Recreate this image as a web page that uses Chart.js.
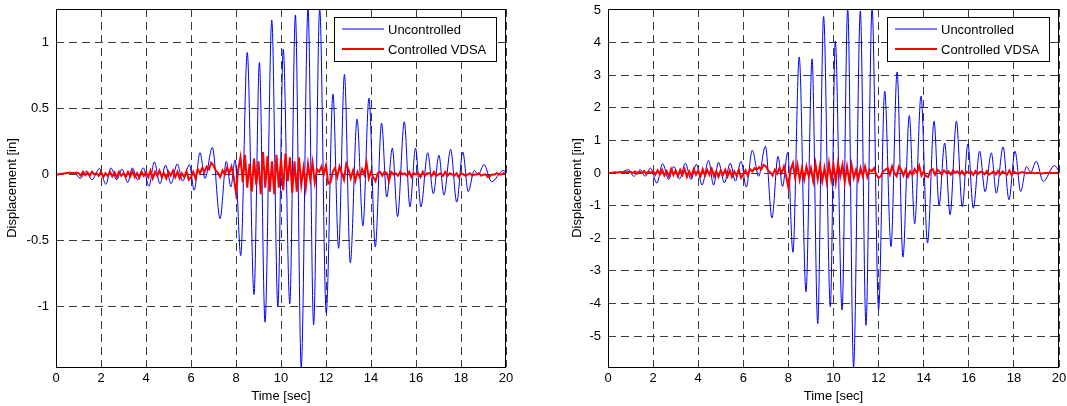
<!DOCTYPE html>
<html>
<head>
<meta charset="utf-8">
<script src="https://cdn.jsdelivr.net/npm/chart.js@4/dist/chart.umd.min.js"></script>
<style>
  html, body { margin: 0; padding: 0; background: #fff; }
  #wrap { position: relative; width: 1067px; height: 406px; }
  #left-chart { position: absolute; left: 0; top: 0; }
  #right-chart { position: absolute; left: 565px; top: 0; }
</style>
</head>
<body>
<div id="wrap">
  <canvas id="left-chart" width="530" height="406"></canvas>
  <canvas id="right-chart" width="502" height="406"></canvas>
</div>
<script>
'use strict';

// labels
var seriesLabels = ['Uncontrolled', 'Controlled VDSA'];
var xTitle = 'Time [sec]';
var yTitle = 'Displacement [in]';

// tick labels
var timeTicks = [0, 2, 4, 6, 8, 10, 12, 14, 16, 18, 20];
var leftYTicks = [-1, -0.5, 0, 0.5, 1];
var rightYTicks = [-5, -4, -3, -2, -1, 0, 1, 2, 3, 4, 5];

// uncontrolled response, left plot (peaks and troughs)
var leftUncT = [0, 0.3, 0.6, 0.85, 1.08, 1.35, 1.6, 1.93, 2.22, 2.44, 2.7, 2.93, 3.19, 3.39, 3.63, 3.88, 4.13, 4.37, 4.62, 4.87,
  5.11, 5.39, 5.63, 5.93, 6.14, 6.4, 6.62, 6.95, 7.29, 7.57, 7.77, 7.96, 8.21, 8.5, 8.8, 9.04, 9.29, 9.59, 9.86, 10.1,
  10.39, 10.64, 10.9, 11.2, 11.45, 11.72, 12.01, 12.31, 12.56, 12.82, 13.08, 13.38, 13.64, 13.91, 14.19, 14.47, 14.7, 14.95, 15.18, 15.48,
  15.73, 15.98, 16.22, 16.52, 16.77, 17.02, 17.24, 17.54, 17.81, 18.08, 18.32, 18.59, 18.77, 19.02, 19.36, 19.88, 20];
var leftUncV = [0, 0.005, 0.015, 0.01, -0.03, 0.025, -0.04, 0.045, -0.075, 0.05, -0.04, 0.04, -0.06, 0.05, -0.04, 0.05, -0.09, 0.095, -0.07, 0.07,
  -0.07, 0.08, -0.05, 0.075, -0.12, 0.165, -0.03, 0.205, -0.335, 0.1, -0.095, 0.11, -0.615, 0.925, -0.91, 0.85, -1.12, 1.17, -1.0, 0.95,
  -0.98, 1.21, -1.46, 1.26, -1.14, 1.26, -1.05, 0.61, -0.56, 0.76, -0.67, 0.42, -0.39, 0.58, -0.55, 0.39, -0.17, 0.2, -0.32, 0.4,
  -0.245, 0.2, -0.245, 0.165, -0.145, 0.146, -0.157, 0.19, -0.21, 0.17, -0.13, 0.03, 0.0, 0.075, -0.055, 0.03, 0.02];

// controlled response, left plot, one value every 0.1 s
var leftCtrlV = [0, 0, 0.005, 0.005, 0.01, 0.01, 0.015, 0.01, 0.01, 0.015, 0.01,
  -0.01, 0.02, -0.005, 0.015, -0.01, 0.02, 0, 0.01, -0.01, 0.02,
  -0.02, 0.01, -0.01, 0.02, -0.015, 0.015, -0.02, 0.02, -0.01, 0.01,
  -0.02, 0.02, -0.015, 0.025, -0.02, 0.01, -0.025, 0.02, -0.01, 0.015,
  -0.02, 0.03, -0.03, 0.02, -0.01, 0.03, -0.02, 0.01, -0.03, 0.02,
  -0.01, 0.03, -0.02, 0.02, -0.03, 0.01, -0.02, 0.025, -0.04, -0.02,
  0.02, -0.03, 0.04, 0.01, 0.05, 0.02, 0.06, 0.04, 0.09, 0.07,
  0.03, 0.01, -0.02, 0.03, 0.0, 0.05, 0.01, 0.06, -0.02, -0.14,
  0.04, 0.13, -0.06, 0.15, -0.1, 0.08, -0.13, 0.12, -0.08, 0.1,
  -0.15, 0.17, -0.1, 0.14, -0.13, 0.1, -0.15, 0.15, -0.1, 0.12,
  -0.12, 0.16, -0.05, 0.13, -0.14, 0.1, -0.13, 0.13, -0.08, 0.05,
  -0.1, 0.08, -0.04, 0.09, -0.06, 0.04, 0.02, 0.06, 0.0, 0.07,
  -0.07, -0.06, 0.02, 0.05, -0.02, 0.06, 0.01, -0.04, 0.08, 0.04,
  -0.03, 0.03, -0.05, 0.02, -0.02, 0.04, 0.0, 0.09, -0.03, 0.02,
  -0.02, -0.05, 0.01, 0.02, -0.01, 0.02, 0.01, -0.05, 0.02, 0.0,
  0.01, -0.01, 0.02, 0.0, 0.01, -0.01, 0.02, -0.02, 0.01, 0.0,
  0.01, -0.02, 0.02, -0.01, 0.01, 0.01, -0.01, 0.02, -0.01, 0.0,
  0.01, -0.01, 0.02, -0.01, 0.01, 0.0, -0.01, 0.01, -0.02, 0.01,
  0.0, -0.01, 0.0, 0.01, -0.01, 0.0, 0.0, 0.01, -0.01, 0.0,
  0.0, -0.02, -0.01, 0.0, 0.0, 0.01, 0.0, 0.0, 0.01, 0.0];

// uncontrolled response, right plot
var rightUncT = [0, 0.3, 0.6, 0.91, 1.14, 1.43, 1.65, 1.88, 2.17, 2.42, 2.69, 2.91, 3.18, 3.43, 3.68, 3.92, 4.17, 4.46, 4.68, 4.9,
  5.16, 5.42, 5.65, 5.9, 6.13, 6.4, 6.68, 6.98, 7.27, 7.54, 7.74, 7.97, 8.2, 8.48, 8.78, 9.05, 9.3, 9.56, 9.86, 10.08,
  10.38, 10.63, 10.89, 11.19, 11.44, 11.71, 12.0, 12.27, 12.55, 12.82, 13.08, 13.36, 13.6, 13.88, 14.17, 14.46, 14.68, 14.93, 15.17, 15.45,
  15.71, 15.96, 16.2, 16.48, 16.72, 17.0, 17.22, 17.52, 17.78, 18.05, 18.3, 18.56, 18.74, 18.99, 19.3, 19.8, 20];
var rightUncV = [0, 0.02, 0.03, 0.1, -0.1, 0.1, -0.1, 0.15, -0.31, 0.29, -0.2, 0.2, -0.18, 0.3, -0.2, 0.27, -0.37, 0.39, -0.37, 0.33,
  -0.3, 0.3, -0.25, 0.36, -0.43, 0.7, -0.1, 0.82, -1.38, 0.51, -0.41, 0.63, -2.43, 3.56, -3.64, 3.5, -4.62, 4.8, -4.1, 4.05,
  -4.2, 5.05, -5.95, 4.97, -4.67, 5.05, -4.19, 2.51, -2.26, 3.1, -2.58, 1.76, -1.56, 2.36, -2.15, 1.59, -0.98, 0.92, -1.28, 1.59,
  -1.03, 0.89, -1.08, 0.67, -0.57, 0.62, -0.62, 0.8, -0.82, 0.67, -0.57, 0.2, 0.02, 0.36, -0.26, 0.23, 0.05];

// controlled response, right plot, one value every 0.1 s
var rightCtrlV = [0, 0, 0.01, 0.02, 0.01, 0.03, 0.02, 0.03, 0.02, 0.03, 0.04,
  0.0, 0.05, -0.02, 0.04, 0.0, 0.06, -0.03, 0.05, 0.0, 0.06,
  -0.05, 0.08, -0.04, 0.1, -0.08, 0.06, -0.1, 0.12, -0.06, 0.08,
  -0.1, 0.1, -0.06, 0.12, -0.12, 0.05, -0.1, 0.12, -0.05, 0.08,
  -0.1, 0.12, -0.08, 0.1, -0.05, 0.13, -0.1, 0.06, -0.12, 0.08,
  -0.06, 0.1, -0.1, 0.08, -0.12, 0.05, -0.08, 0.1, -0.15, -0.05,
  0.08, -0.08, 0.12, 0.05, 0.15, 0.1, 0.18, 0.12, 0.25, 0.2,
  0.08, 0.02, -0.08, 0.1, -0.02, 0.15, 0.0, 0.2, -0.1, -0.45,
  0.1, 0.3, -0.15, 0.25, -0.2, 0.15, -0.2, 0.2, -0.1, 0.15,
  -0.25, 0.28, -0.2, 0.22, -0.25, 0.15, -0.28, 0.3, -0.2, 0.25,
  -0.28, 0.3, -0.1, 0.25, -0.28, 0.2, -0.25, 0.25, -0.15, 0.1,
  -0.2, 0.15, -0.1, 0.2, -0.12, 0.1, 0.05, 0.15, -0.05, -0.15,
  -0.1, 0.05, 0.1, 0.15, -0.05, 0.2, 0.0, -0.1, 0.2, 0.1,
  -0.08, 0.1, -0.12, 0.05, -0.05, 0.12, 0.0, 0.22, -0.08, 0.05,
  -0.1, -0.12, 0.08, 0.12, -0.05, 0.1, 0.05, -0.05, 0.08, 0.0,
  0.05, -0.05, 0.08, 0.0, 0.05, -0.04, 0.06, -0.05, 0.04, 0.0,
  0.04, -0.06, 0.06, -0.03, 0.04, 0.03, -0.04, 0.06, -0.05, 0.0,
  0.05, -0.04, 0.06, -0.04, 0.05, 0.0, -0.05, 0.08, -0.06, 0.04,
  0.0, -0.02, 0.02, 0.02, -0.01, 0.0, 0.0, 0.02, -0.01, 0.0,
  0.0, -0.02, -0.01, 0.0, 0.0, 0.01, 0.0, 0.0, 0.01, 0.0];

var ctrlStep = 0.1;

let Plots = function(){

    var FONT = 'Liberation Sans, Arial, Helvetica, sans-serif';
    var BLUE = '#0000ff';
    var RED = '#ff0000';

    // box around the plot + legend in the upper right corner
    var framePlugin = {
        id : 'frame',
        afterDraw : function(chart){
            var ctx = chart.ctx;
            var a = chart.chartArea;
            ctx.save();
            ctx.strokeStyle = '#000';
            ctx.lineWidth = 1;
            ctx.strokeRect(Math.round(a.left) + 0.5, Math.round(a.top) + 0.5,
                Math.round(a.right - a.left) - 1, Math.round(a.bottom - a.top));

            var bw = 162, bh = 44;
            var bx = Math.round(a.right) - 10 - bw;
            var by = Math.round(a.top) + 8;
            ctx.fillStyle = '#fff';
            ctx.fillRect(bx, by, bw, bh);
            ctx.strokeRect(bx + 0.5, by + 0.5, bw, bh);

            var ds = chart.data.datasets;
            ctx.font = '13px ' + FONT;
            ctx.textBaseline = 'middle';
            for (var i = 0; i < ds.length; i++) {
                var ly = by + 12 + i * 20;
                ctx.beginPath();
                ctx.strokeStyle = ds[i].borderColor;
                ctx.lineWidth = ds[i].borderWidth;
                ctx.moveTo(bx + 8, ly);
                ctx.lineTo(bx + 50, ly);
                ctx.stroke();
                ctx.fillStyle = '#000';
                ctx.fillText(ds[i].label, bx + 54, ly + 1);
            }
            ctx.restore();
        }
    };

    var _points = function(ts, vs){
        var out = [];
        for (var i = 0; i < vs.length; i++) out.push({x : ts[i], y : vs[i]});
        return out;
    };

    var _sampled = function(vs){
        var out = [];
        for (var i = 0; i < vs.length; i++) out.push({x : Math.round(i * ctrlStep * 10) / 10, y : vs[i]});
        return out;
    };

    var _make = function(id, opts){
        var ctx = document.getElementById(id).getContext('2d');
        var config = {
            type : 'line',
            data : {
                datasets : [{
                    label : seriesLabels[0],
                    data : _points(opts.uncT, opts.uncV),
                    borderColor : BLUE,
                    borderWidth : 1,
                    pointRadius : 0,
                    cubicInterpolationMode : 'monotone',
                    order : 1
                },{
                    label : seriesLabels[1],
                    data : _sampled(opts.ctrl),
                    borderColor : RED,
                    borderWidth : 2,
                    pointRadius : 0,
                    tension : 0,
                    order : 0
                }]
            },
            options : {
                responsive : false,
                animation : false,
                events : [],
                layout : { padding : { top : 9, right : opts.padRight, left : 0, bottom : 0 } },
                plugins : { legend : { display : false }, tooltip : { enabled : false } },
                scales : {
                    x : {
                        type : 'linear',
                        min : 0,
                        max : 20,
                        afterBuildTicks : function(s){ s.ticks = timeTicks.map(function(v){ return {value : v}; }); },
                        afterFit : function(s){ s.height = 39; s.paddingLeft = 0; s.paddingRight = 0; },
                        grid : { color : '#3c3c3c', lineWidth : 1, drawTicks : false },
                        border : { display : false, dash : [8, 5] },
                        ticks : { color : '#000', font : { family : FONT, size : 13 }, padding : 4, maxRotation : 0 },
                        title : { display : true, text : xTitle, color : '#000', font : { family : FONT, size : 13 }, padding : { top : 0, bottom : 2 } }
                    },
                    y : {
                        type : 'linear',
                        min : opts.yMin,
                        max : opts.yMax,
                        afterBuildTicks : function(s){ s.ticks = opts.yTicks.map(function(v){ return {value : v}; }); },
                        afterFit : function(s){ s.width = opts.yWidth; s.paddingTop = 0; s.paddingBottom = 0; },
                        grid : { color : '#3c3c3c', lineWidth : 1, drawTicks : false },
                        border : { display : false, dash : [8, 5] },
                        ticks : { color : '#000', font : { family : FONT, size : 13 }, padding : 7,
                                  callback : function(v){ return String(v); } },
                        title : { display : true, text : yTitle, color : '#000', font : { family : FONT, size : 13 }, padding : { top : 5, bottom : 0 } }
                    }
                }
            },
            plugins : [framePlugin]
        };
        return new Chart(ctx, config);
    };

    return {
        init : function(){
            window.leftChart = _make('left-chart', {
                uncT : leftUncT, uncV : leftUncV, ctrl : leftCtrlV,
                yMin : -1.46, yMax : 1.255, yTicks : leftYTicks, yWidth : 56, padRight : 24
            });
            window.rightChart = _make('right-chart', {
                uncT : rightUncT, uncV : rightUncV, ctrl : rightCtrlV,
                yMin : -5.95, yMax : 5.03, yTicks : rightYTicks, yWidth : 43, padRight : 8
            });
        }
    }

}();

document.addEventListener('DOMContentLoaded', function(){
    Plots.init();
});
</script>
</body>
</html>
